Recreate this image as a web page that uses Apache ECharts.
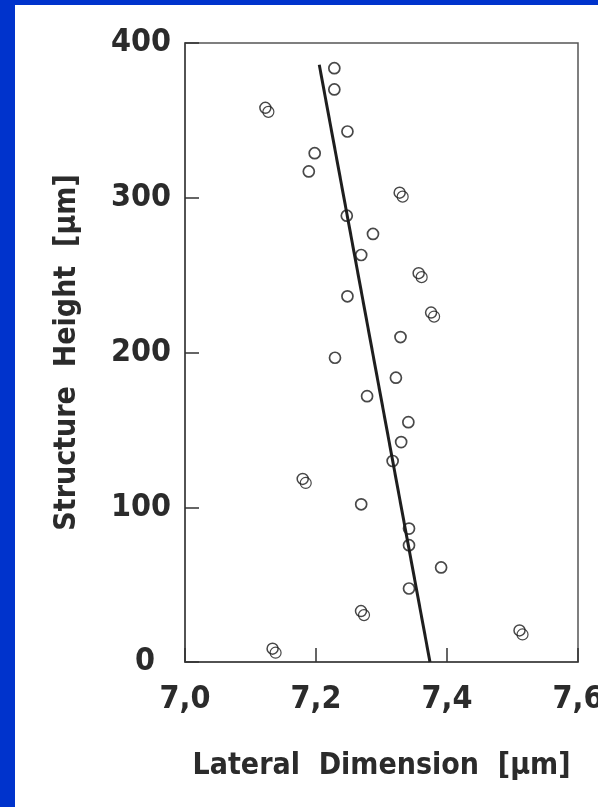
<!DOCTYPE html>
<html>
<head>
<meta charset="utf-8">
<script src="https://cdn.jsdelivr.net/npm/echarts@6/dist/echarts.min.js"></script>
<style>
html,body{margin:0;padding:0;background:#fff;}
#chart{width:598px;height:807px;}
</style>
</head>
<body>
<div id="chart"></div>
<script>
// Single hollow circles [lateral dimension µm, structure height µm]
var singlePoints = [
  [7.228,383.7],[7.228,370],[7.248,342.8],[7.198,328.8],[7.189,317],
  [7.247,288.4],[7.287,276.6],[7.269,263],[7.248,236.3],[7.329,210],
  [7.229,196.6],[7.322,183.7],[7.278,171.8],[7.341,155],[7.330,142.1],
  [7.317,129.9],[7.269,101.9],[7.342,86.2],[7.342,75.5],[7.391,61.1],
  [7.342,47.5]
];
// Doubled (overlapping) circles
var doublePoints = [
  [7.125,356.8],[7.330,302],[7.359,250],[7.378,224.5],
  [7.182,117],[7.271,31.6],[7.513,19.1],[7.136,7.3]
];
// Fitted line end points
var fitLine = [[7.374,0],[7.205,386]];
var xTicks = [7.0, 7.2, 7.4, 7.6];
var yTicks = [0, 100, 200, 300, 400];

var FONT = '"DejaVu Sans Condensed","DejaVu Sans",sans-serif';
var TXT = '#2b2b2b';
var chart = echarts.init(document.getElementById('chart'), null, {renderer:'canvas'});

function circleSeries(data, offset, bw){
  return {
    type:'scatter', data:data, symbol:'circle', symbolSize:11,
    symbolOffset: offset,
    itemStyle:{color:'rgba(255,255,255,0)', borderColor:'#1a1a1a', borderWidth:bw},
    silent:true, z:3
  };
}

chart.setOption({
  backgroundColor:'#ffffff',
  animation:false,
  graphic:[
    {type:'rect', left:0, top:0, shape:{width:15, height:807}, style:{fill:'#0033cc'}, z:100},
    {type:'rect', left:0, top:0, shape:{width:598, height:5}, style:{fill:'#0033cc'}, z:100}
  ],
  grid:{left:185, top:43, right:20, bottom:145, outerBoundsMode:'none', containLabel:false,
        show:true, borderColor:'#555', borderWidth:1.5, backgroundColor:'#fff'},
  xAxis:{
    type:'value', min:xTicks[0], max:xTicks[xTicks.length-1], interval:0.2,
    name:'Lateral  Dimension  [µm]', nameLocation:'middle', nameGap:89,
    nameTextStyle:{fontFamily:FONT, fontWeight:'bold', fontSize:30, color:TXT},
    axisLine:{show:true, lineStyle:{color:'#444', width:1.5}},
    axisTick:{show:true, inside:true, length:14, lineStyle:{color:'#333', width:1.5}},
    splitLine:{show:false},
    axisLabel:{fontFamily:FONT, fontWeight:'bold', fontSize:32, color:TXT, margin:22,
      showMinLabel:true, showMaxLabel:true, hideOverlap:false,
      formatter:function(v){return v.toFixed(1).replace('.', ',');}}
  },
  yAxis:{
    type:'value', min:yTicks[0], max:yTicks[yTicks.length-1], interval:100,
    name:'Structure  Height  [µm]', nameLocation:'middle', nameGap:103, nameRotate:90,
    nameTextStyle:{fontFamily:FONT, fontWeight:'bold', fontSize:30, color:TXT},
    axisLine:{show:true, lineStyle:{color:'#444', width:1.5}},
    axisTick:{show:true, inside:true, length:14, lineStyle:{color:'#333', width:1.5}},
    splitLine:{show:false},
    axisLabel:{fontFamily:FONT, fontWeight:'bold', fontSize:32, color:TXT, margin:14,
      showMinLabel:true, showMaxLabel:true, hideOverlap:false,
      formatter:function(v){return v===0 ? '{z|0}' : String(v);},
      rich:{z:{fontFamily:FONT, fontWeight:'bold', fontSize:32, color:TXT, padding:[0,16,0,0]}}}
  },
  series:[
    {type:'line', data:fitLine, symbol:'none', lineStyle:{color:'#1e1e1e', width:3}, silent:true, z:2},
    circleSeries(singlePoints, [0,0], 1.7),
    circleSeries(doublePoints, [-1.5,-2], 1.5),
    circleSeries(doublePoints, [1.5,2], 1.2)
  ]
});
</script>
</body>
</html>
